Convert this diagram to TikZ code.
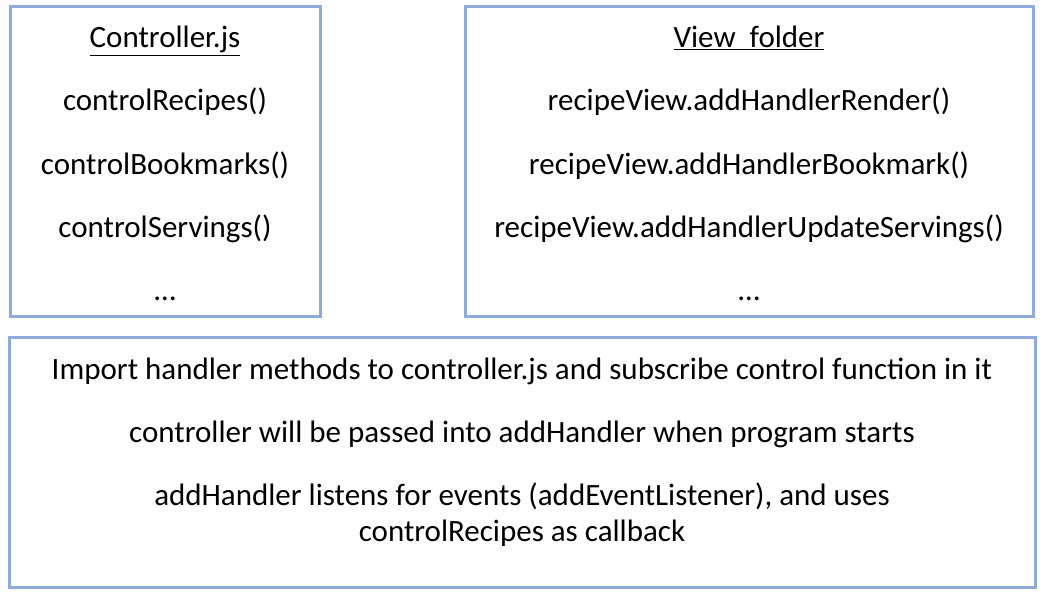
\documentclass[tikz,border=0pt]{standalone}
\usepackage{fontspec}
\setmainfont{Carlito}
\definecolor{boxblue}{RGB}{143,170,220}
\begin{document}
\begin{tikzpicture}[x=1pt,y=-1pt,
  panel/.style={draw=boxblue,line width=3pt},
  txt/.style={anchor=base,inner sep=0pt,font=\fontsize{31}{37}\selectfont}]
\useasboundingbox (0,0) rectangle (1046,599);
\path[fill=white] (0,0) rectangle (1046,599);
\draw[panel] (10,7) rectangle (320,316);
\draw[panel] (465,7) rectangle (1033,316);
\draw[panel] (9,337) rectangle (1035,587);
% Controller box
\node[txt] (c0) at (165,48) {\underline{Controller.js}};
\node[txt] (c1) at (165,111) {controlRecipes()};
\node[txt] (c2) at (165,174) {controlBookmarks()};
\node[txt] (c3) at (165,237) {controlServings()};
\node[txt] (c4) at (165,300) {…};
% View box
\node[txt] (v0) at (749,48) {\underline{View\ \ folder}};
\node[txt] (v1) at (749,111) {recipeView.addHandlerRender()};
\node[txt] (v2) at (749,174) {recipeView.addHandlerBookmark()};
\node[txt] (v3) at (749,237) {recipeView.addHandlerUpdateServings()};
\node[txt] (v4) at (749,300) {…};
% Bottom box
\node[txt] (b1) at (522,379) {Import handler methods to controller.js and subscribe control function in it};
\node[txt] (b2) at (522,442) {controller will be passed into addHandler when program starts};
\node[txt] (b3) at (522,505) {addHandler listens for events (addEventListener), and uses};
\node[txt] (b4) at (522,541) {controlRecipes as callback};
\end{tikzpicture}
\end{document}
